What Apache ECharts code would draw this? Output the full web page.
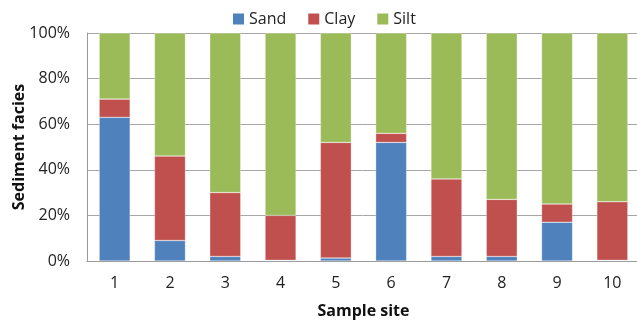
<!DOCTYPE html>
<html>
<head>
<meta charset="utf-8">
<script src="https://cdn.jsdelivr.net/npm/echarts@6/dist/echarts.min.js"></script>
<style>
  html, body { margin: 0; padding: 0; background: #fff; }
  #chart { width: 637px; height: 324px; }
</style>
</head>
<body>
<div id="chart"></div>
<script>
  const sites = ['1', '2', '3', '4', '5', '6', '7', '8', '9', '10']
  const sand = [63, 9, 2, 0.3, 1.3, 52, 2, 2, 17, 0.3]
  const clay = [8, 37, 28, 19.7, 50.7, 4, 34, 25, 8, 25.7]
  const silt = [29, 54, 70, 80, 48, 44, 64, 73, 75, 74]
  const yTicks = [0, 20, 40, 60, 80, 100]

  const font = '"Open Sans", "Noto Sans", sans-serif'
  const sep = { borderColor: 'rgba(255,255,255,0.6)', borderWidth: 0.5 }

  let myChart = echarts.init(document.getElementById('chart'))
  myChart.setOption({
    animation: false,
    textStyle: { fontFamily: font },
    legend: {
      top: 6,
      left: 228,
      itemWidth: 11,
      itemHeight: 11,
      itemGap: 22,
      itemStyle: { borderWidth: 0 },
      icon: 'rect',
      textStyle: { fontSize: 16, color: '#222', fontFamily: font },
      data: ['Sand', 'Clay', 'Silt']
    },
    grid: { left: 87, width: 553, top: 33, bottom: 63, containLabel: false, outerBoundsMode: 'none' },
    xAxis: {
      type: 'category',
      data: sites,
      name: 'Sample site',
      nameLocation: 'middle',
      nameGap: 42,
      nameMoveOverlap: false,
      nameTextStyle: { fontSize: 16, fontWeight: 'bold', color: '#111' },
      axisTick: { show: false },
      axisLine: { lineStyle: { color: '#999' } },
      axisLabel: { margin: 14, fontSize: 16, color: '#222' }
    },
    yAxis: {
      type: 'value',
      min: yTicks[0],
      max: yTicks[yTicks.length - 1],
      interval: 20,
      name: 'Sediment facies',
      nameLocation: 'middle',
      nameGap: 60,
      nameMoveOverlap: false,
      nameTextStyle: { fontSize: 16, fontWeight: 'bold', color: '#111' },
      axisLine: { show: true, lineStyle: { color: '#999' } },
      axisTick: { show: false },
      splitLine: { lineStyle: { color: '#a6a6a6', width: 1 } },
      axisLabel: { margin: 17, fontSize: 16, color: '#222', formatter: '{value}%' }
    },
    series: [
      { name: 'Sand', type: 'bar', stack: 'all', data: sand, barWidth: '56%', itemStyle: Object.assign({ color: '#4F81BD' }, sep) },
      { name: 'Clay', type: 'bar', stack: 'all', data: clay, barWidth: '56%', itemStyle: Object.assign({ color: '#C0504D' }, sep) },
      { name: 'Silt', type: 'bar', stack: 'all', data: silt, barWidth: '56%', itemStyle: Object.assign({ color: '#9BBB59' }, sep) }
    ]
  })
</script>
</body>
</html>
